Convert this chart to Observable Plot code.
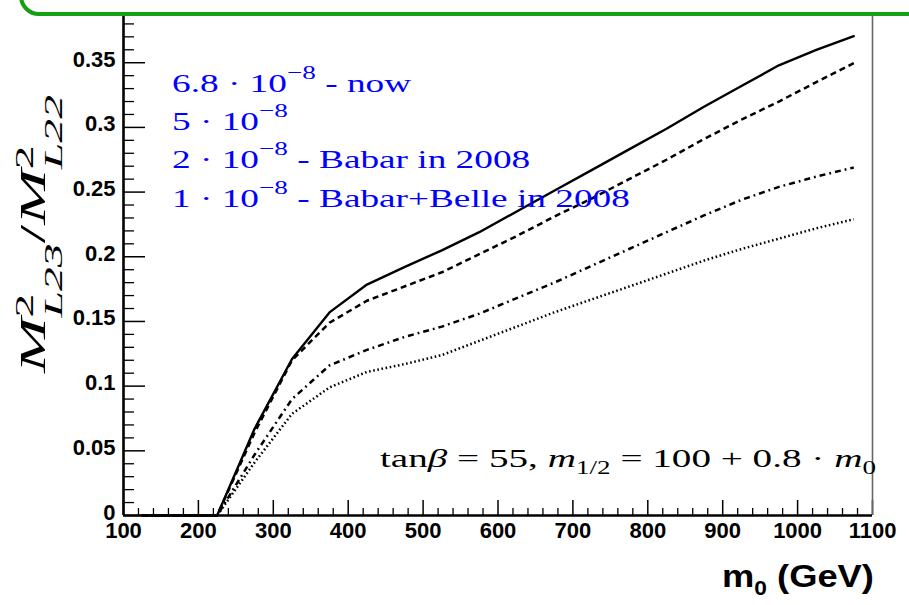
<!DOCTYPE html>
<html><head><meta charset="utf-8">
<script src="https://cdn.jsdelivr.net/npm/d3@7"></script>
<script src="https://cdn.jsdelivr.net/npm/@observablehq/plot@0.6"></script>
<style>
html,body{margin:0;padding:0;background:#fff;}
#wrap{position:relative;width:909px;height:605px;overflow:hidden;background:#fff;}
#frame{position:absolute;left:19px;top:-100px;width:1000px;height:108px;border:4px solid #13a013;border-radius:20px;box-sizing:content-box;pointer-events:none;}
svg text{white-space:pre;}
</style></head><body>
<div id="wrap"><div id="chart"></div><div id="frame"></div></div>
<script>
// m0 (GeV) sample points
const m0 = [125,175,225,275,325,375,425,475,525,575,625,675,725,775,825,875,925,975,1025,1075];
// M^2_L23 / M^2_L22 for each BR limit
const lim68 = [0,0,0,0.067,0.121,0.157,0.1785,0.192,0.205,0.219,0.235,0.251,0.267,0.283,0.299,0.316,0.332,0.348,0.360,0.3705];
const lim50 = [0,0,0,0.064,0.120,0.149,0.166,0.177,0.188,0.202,0.216,0.231,0.245,0.260,0.275,0.291,0.306,0.320,0.335,0.3496];
const lim20 = [0,0,0,0.047,0.090,0.116,0.128,0.138,0.146,0.156,0.168,0.180,0.193,0.206,0.219,0.232,0.244,0.254,0.262,0.269];
const lim10 = [0,0,0,0.041,0.0786,0.099,0.111,0.117,0.124,0.135,0.146,0.157,0.167,0.177,0.187,0.197,0.206,0.214,0.222,0.229];
const seriesNames = ["6.8e-8","5e-8","2e-8","1e-8"];
const seriesDash = ["none","6,4","6,4,1.8,4","1.6,2.6"];
// tick values
const xMajor = d3.range(100, 1101, 100);
const xMinor = d3.range(100, 1101, 20).filter(v => v % 100 !== 0);
const yMajor = [0,0.05,0.1,0.15,0.2,0.25,0.3,0.35];
const yMinor = d3.range(1, 39).filter(i => i % 5 !== 0).map(i => i / 100);

const W = 909, H = 605, mL = 123, mR = 37, mT = 15, mB = 90;
const plotW = W - mL - mR, plotH = H - mT - mB;

const all = [lim68, lim50, lim20, lim10];
const rows = all.flatMap((arr, s) => arr.map((v, i) => ({m: m0[i], v, s: seriesNames[s]})));

const lineMarks = seriesNames.map((name, s) =>
  Plot.line(rows.filter(r => r.s === name), {x: "m", y: "v", stroke: "black",
    strokeWidth: s === 0 ? 2.4 : 2.5, strokeLinecap: s === 0 ? "round" : "butt", strokeLinejoin: "round",
    strokeDasharray: seriesDash[s] === "none" ? null : seriesDash[s]}));

const chart = Plot.plot({
  width: W, height: H,
  marginLeft: mL, marginRight: mR, marginTop: mT, marginBottom: mB,
  style: {fontFamily: "'Liberation Sans', Arial, sans-serif", fontSize: "22px", fontWeight: "bold", color: "black", background: "transparent"},
  x: {domain: [100, 1100]},
  y: {domain: [0, 0.3865]},
  marks: [
    Plot.tickY(yMajor, {y: d => d, insetRight: plotW - 22, stroke: "black", strokeWidth: 1.5}),
    Plot.tickY(yMinor, {y: d => d, insetRight: plotW - 11, stroke: "black", strokeWidth: 1.3}),
    Plot.tickX(xMajor, {x: d => d, insetTop: plotH - 15, stroke: "black", strokeWidth: 1.5}),
    Plot.tickX(xMinor, {x: d => d, insetTop: plotH - 7, stroke: "black", strokeWidth: 1.3}),
    ...lineMarks,
    Plot.ruleX([1100], {stroke: "#666", strokeWidth: 1.6}),
    Plot.ruleX([100], {stroke: "black", strokeWidth: 2.6}),
    Plot.ruleY([0], {stroke: "black", strokeWidth: 2.6}),
    Plot.axisX({ticks: xMajor, tickSize: 0, tickPadding: 7, label: null, tickFormat: d => String(d)}),
    Plot.axisY({ticks: yMajor, tickSize: 0, tickPadding: 8, dy: -3, label: null, tickFormat: d => String(+d.toFixed(2))})
  ]
});
document.getElementById("chart").appendChild(chart);

const svg = d3.select(chart);
function place(g, runs, fam, base) {
  let x = 0;
  const add = (r) => g.append("text").attr("x", x).attr("y", r.dy || 0)
    .attr("text-anchor", "start")
    .attr("font-family", fam).attr("font-size", r.size || base)
    .attr("font-style", r.it ? "italic" : "normal").attr("font-weight", r.bold ? "bold" : "normal")
    .attr("fill", "currentColor").text(r.t);
  for (const r of runs) {
    if (r.pair) {
      let w = 0;
      for (const p of r.pair) w = Math.max(w, add(p).node().getComputedTextLength());
      x += w;
    } else x += add(r).node().getComputedTextLength();
  }
  return x;
}
const serif = "'Liberation Serif', 'DejaVu Serif', serif";

// legend texts (blue)
const legendLines = [
  [{t: "6.8 · 10"}, {t: "−8", size: 19, dy: -13}, {t: " - now"}],
  [{t: "5 · 10"}, {t: "−8", size: 19, dy: -13}],
  [{t: "2 · 10"}, {t: "−8", size: 19, dy: -13}, {t: " - Babar in 2008"}],
  [{t: "1 · 10"}, {t: "−8", size: 19, dy: -13}, {t: " - Babar+Belle in 2008"}]
];
const legendBase = [92, 130, 168, 206.5];
const legG = legendLines.map((runs, i) => {
  const g = svg.append("g").attr("text-anchor", "start").style("color", "#0000ff");
  const w = place(g, runs, serif, 26);
  return {g, w, i};
});
const sxLeg = (630 - 172) / legG[3].w;
legG.forEach(({g, i}) => g.attr("transform", `translate(172,${legendBase[i]}) scale(${sxLeg},1)`));

// annotation
const ann = svg.append("g").attr("text-anchor", "start").style("color", "black");
const wAnn = place(ann, [
  {t: "tan"}, {t: "β", it: true}, {t: " = 55, "}, {t: "m", it: true}, {t: "1/2", size: 18, dy: 7},
  {t: " = 100 + 0.8 · "}, {t: "m", it: true}, {t: "0", size: 18, dy: 7}
], serif, 26);
ann.attr("transform", `translate(380,467) scale(${(876 - 380) / wAnn},1)`);

// y title
const yt = svg.append("g").attr("text-anchor", "start").style("color", "black");
const wYt = place(yt, [
  {t: "M", it: true}, {pair: [{t: "2", size: 25, dy: -12}, {t: "L23", size: 25, dy: 17, it: true}]},
  {t: "/"}, {t: "M", it: true}, {pair: [{t: "2", size: 25, dy: -12}, {t: "L22", size: 25, dy: 17, it: true}]}
], serif, 35);
yt.attr("transform", `translate(45,373) rotate(-90) scale(${(373 - 95) / wYt},1)`);

// x title
const xt = svg.append("g").attr("text-anchor", "start").style("color", "black");
const wXt = place(xt, [
  {t: "m", bold: true}, {t: "0", size: 20, dy: 8, bold: true}, {t: " (GeV)", bold: true}
], "'Liberation Sans', Arial, sans-serif", 32);
xt.attr("transform", `translate(722,587) scale(${(874 - 722) / wXt},1)`);
</script>
</body></html>
